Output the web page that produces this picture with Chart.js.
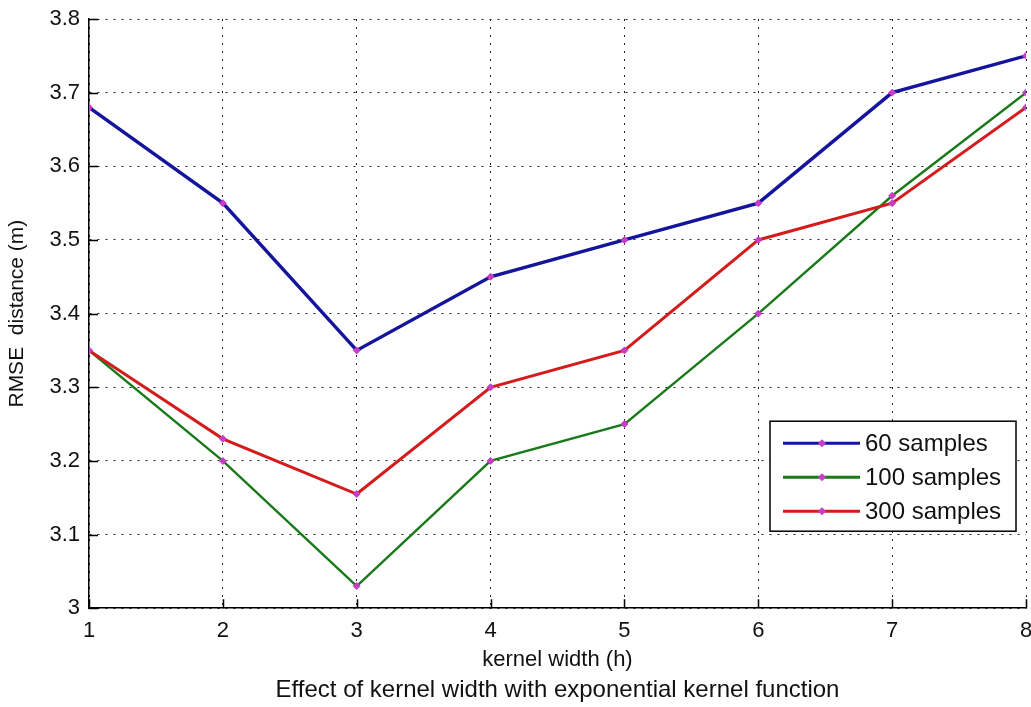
<!DOCTYPE html>
<html>
<head>
<meta charset="UTF-8">
<title>Effect of kernel width</title>
<script src="https://cdn.jsdelivr.net/npm/chart.js"></script>
<style>
  html, body { margin: 0; padding: 0; background: #fff; }
  canvas { display: block; }
</style>
</head>
<body>
<canvas id="chart" width="1031" height="707"></canvas>
<script>
  // values
  var kernelWidths = [1, 2, 3, 4, 5, 6, 7, 8];
  var samples60 = [3.68, 3.55, 3.35, 3.45, 3.50, 3.55, 3.70, 3.75];
  var samples100 = [3.35, 3.20, 3.03, 3.20, 3.25, 3.40, 3.56, 3.70];
  var samples300 = [3.35, 3.23, 3.155, 3.30, 3.35, 3.50, 3.55, 3.68];
  var seriesNames = ['60 samples', '100 samples', '300 samples'];
  var xTickLabels = ['1', '2', '3', '4', '5', '6', '7', '8'];
  var yTicks = [3, 3.1, 3.2, 3.3, 3.4, 3.5, 3.6, 3.7, 3.8];
  var yTickLabels = ['3', '3.1', '3.2', '3.3', '3.4', '3.5', '3.6', '3.7', '3.8'];

  var FONT = "'Liberation Sans', Arial, sans-serif";
  var MARKER = '#c83cc8';

  function toPoints(values) {
    return values.map(function (v, i) { return { x: kernelWidths[i], y: v }; });
  }

  function series(label, values, color, width, order) {
    return {
      label: label,
      data: toPoints(values),
      borderColor: color,
      backgroundColor: MARKER,
      borderWidth: width,
      pointStyle: 'rectRot',
      pointRadius: 3.5,
      pointBorderColor: MARKER,
      pointBackgroundColor: MARKER,
      pointBorderWidth: 1,
      tension: 0,
      order: order
    };
  }

  // small inward tick marks, matlab style
  var innerTicks = {
    id: 'innerTicks',
    afterDraw: function (chart) {
      var ctx = chart.ctx, ca = chart.chartArea;
      var xs = chart.scales.x, ys = chart.scales.y;
      ctx.save();
      ctx.strokeStyle = '#000';
      ctx.lineWidth = 1.5;
      ctx.beginPath();
      xs.ticks.forEach(function (t) {
        var px = Math.round(xs.getPixelForValue(t.value)) + 0.5;
        ctx.moveTo(px, ca.bottom);
        ctx.lineTo(px, ca.bottom - 9);
      });
      ys.ticks.forEach(function (t) {
        var py = Math.round(ys.getPixelForValue(t.value)) + 0.5;
        ctx.moveTo(ca.left, py);
        ctx.lineTo(ca.left + 9, py);
      });
      ctx.stroke();
      ctx.restore();
    }
  };

  // legend box inside the lower right of the plot
  var boxLegend = {
    id: 'boxLegend',
    afterDraw: function (chart) {
      var ctx = chart.ctx, ca = chart.chartArea;
      var left = ca.right - 256, right = ca.right - 10;
      var top = ca.bottom - 187, bottom = ca.bottom - 77;
      ctx.save();
      ctx.fillStyle = '#fff';
      ctx.fillRect(left, top, right - left, bottom - top);
      ctx.strokeStyle = '#000';
      ctx.lineWidth = 1.5;
      ctx.strokeRect(left, top, right - left, bottom - top);
      ctx.font = '24px ' + FONT;
      ctx.textBaseline = 'middle';
      ctx.textAlign = 'left';
      var rows = [22, 56, 90];
      chart.data.datasets.forEach(function (ds, i) {
        var y = top + rows[i];
        ctx.strokeStyle = ds.borderColor;
        ctx.lineWidth = 3;
        ctx.beginPath();
        ctx.moveTo(left + 13, y);
        ctx.lineTo(left + 90, y);
        ctx.stroke();
        ctx.fillStyle = MARKER;
        ctx.beginPath();
        ctx.moveTo(left + 52, y - 4);
        ctx.lineTo(left + 56, y);
        ctx.lineTo(left + 52, y + 4);
        ctx.lineTo(left + 48, y);
        ctx.closePath();
        ctx.fill();
        ctx.fillStyle = '#111';
        ctx.fillText(ds.label, left + 95, y + 1);
      });
      ctx.restore();
    }
  };

  var ctx = document.getElementById('chart').getContext('2d');
  new Chart(ctx, {
    type: 'line',
    data: {
      datasets: [
        series(seriesNames[0], samples60, '#14149c', 3.4, 3),
        series(seriesNames[1], samples100, '#1a7a1a', 2.4, 2),
        series(seriesNames[2], samples300, '#d41c1c', 3, 1)
      ]
    },
    options: {
      responsive: false,
      devicePixelRatio: 1,
      animation: false,
      layout: { padding: { top: 19, right: 5, left: 0, bottom: 0 } },
      plugins: {
        legend: { display: false },
        tooltip: { enabled: false },
        title: {
          display: true,
          position: 'bottom',
          fullSize: false,
          text: 'Effect of kernel width with exponential kernel function',
          color: '#111',
          font: { family: FONT, size: 24, weight: 'normal' },
          padding: { top: 0, bottom: 2 }
        }
      },
      scales: {
        x: {
          type: 'linear',
          min: 1,
          max: 8,
          offset: false,
          afterFit: function (s) {
            s.height = 68;
            s.paddingLeft = 0;
            s.paddingRight = 0;
          },
          ticks: {
            stepSize: 1,
            autoSkip: false,
            maxRotation: 0,
            padding: 10,
            color: '#111',
            font: { family: FONT, size: 22 },
            callback: function (v) {
              var i = kernelWidths.indexOf(v);
              return i < 0 ? '' : xTickLabels[i];
            }
          },
          grid: { color: '#222', lineWidth: 1, drawTicks: false },
          border: { color: '#000', width: 1.5, dash: [2, 6] },
          title: {
            display: true,
            text: 'kernel width (h)',
            color: '#111',
            font: { family: FONT, size: 22 },
            padding: { top: 0, bottom: 3 }
          }
        },
        y: {
          type: 'linear',
          min: 3,
          max: 3.8,
          afterFit: function (s) {
            s.width = 89;
            s.paddingTop = 0;
            s.paddingBottom = 0;
          },
          ticks: {
            stepSize: 0.1,
            padding: 9,
            color: '#111',
            font: { family: FONT, size: 22 },
            callback: function (v) {
              for (var k = 0; k < yTicks.length; k++) {
                if (Math.abs(yTicks[k] - v) < 1e-6) return yTickLabels[k];
              }
              return '';
            }
          },
          grid: { color: '#222', lineWidth: 1, drawTicks: false },
          border: { color: '#000', width: 1.5, dash: [2, 6] },
          title: {
            display: true,
            text: 'RMSE  distance (m)',
            color: '#111',
            font: { family: FONT, size: 21 },
            padding: { top: 5, bottom: 0 }
          }
        }
      }
    },
    plugins: [innerTicks, boxLegend]
  });
</script>
</body>
</html>
